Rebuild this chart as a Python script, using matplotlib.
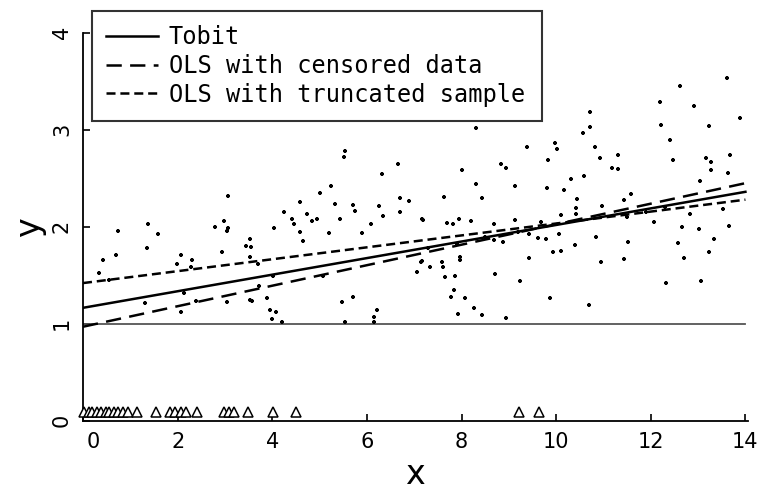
import numpy as np
import matplotlib
matplotlib.use('Agg')
import matplotlib.pyplot as plt
import matplotlib.transforms as mtrans

# observed points (uncensored, y > 1)
pts_x = [3.07, 1.37, 0.75, 1.59, 2.79, 2.98, 3.07, 3.05, 3.53, 3.45, 3.55, 0.69, 0.42, 1.35,
         2.08, 2.30, 2.94, 3.54, 0.34, 1.99, 2.29, 2.13, 1.32, 2.39, 3.05, 2.08, 3.54, 0.55,
         5.53, 5.51, 6.65, 6.31, 5.25, 5.01, 4.58, 5.32, 5.70, 5.75, 6.25, 6.71, 6.88, 4.24,
         4.42, 4.46, 4.74, 4.84, 4.95, 5.43, 6.33, 6.70, 7.17, 4.04, 4.58, 5.19, 5.89, 6.09,
         4.65, 3.70, 4.01, 5.07, 7.06, 7.14, 3.89, 3.57, 5.48, 5.71, 3.96, 4.08, 3.99, 4.20,
         5.54, 6.22, 6.16, 6.14, 3.73,
         8.30, 9.39, 9.98, 10.01, 10.72, 10.72, 10.57, 8.01, 8.84, 8.95, 9.82, 8.31, 9.14,
         9.80, 10.17, 10.32, 10.58, 7.62, 8.44, 10.44, 10.42, 10.42, 7.19, 7.69, 7.81, 7.94,
         8.20, 9.14, 10.10, 8.69, 9.68, 8.88, 9.62, 9.78, 10.06, 10.39, 9.94, 10.10, 7.97,
         7.97, 7.59, 7.60, 7.34, 7.16, 7.65, 7.87, 9.43, 8.70, 9.24, 7.84, 7.78, 8.08, 9.87,
         8.27, 8.44, 7.93, 8.94, 10.69, 7.30, 7.90, 8.50, 9.20, 8.69, 9.42,
         13.62, 12.61, 12.19, 12.91, 13.88, 12.22, 13.24, 12.41, 10.83, 10.93, 11.31, 11.18,
         11.31, 12.46, 13.17, 13.28, 13.27, 13.68, 13.64, 13.04, 11.58, 11.44, 10.97, 12.07,
         12.83, 13.52, 10.84, 12.65, 13.02, 13.65, 11.52, 12.57, 13.33, 10.95, 11.43, 12.70,
         13.23, 12.33, 13.06, 11.50, 11.90, 12.30]
pts_y = [2.32, 2.03, 1.96, 1.93, 2.00, 2.06, 1.99, 1.96, 1.87, 1.80, 1.79, 1.71, 1.66, 1.78,
         1.71, 1.66, 1.74, 1.69, 1.52, 1.62, 1.59, 1.32, 1.21, 1.24, 1.22, 1.12, 1.25, 1.45,
         2.78, 2.72, 2.65, 2.54, 2.42, 2.35, 2.26, 2.23, 2.22, 2.16, 2.21, 2.30, 2.27, 2.15,
         2.08, 2.03, 2.13, 2.06, 2.08, 2.08, 2.11, 2.15, 2.08, 1.99, 1.95, 1.94, 1.94, 2.03,
         1.85, 1.62, 1.49, 1.49, 1.53, 1.64, 1.27, 1.24, 1.22, 1.28, 1.14, 1.12, 1.05, 1.02,
         1.02, 1.14, 1.07, 1.02, 1.39,
         3.02, 2.82, 2.86, 2.80, 3.18, 3.03, 2.97, 2.59, 2.65, 2.61, 2.69, 2.44, 2.42,
         2.40, 2.38, 2.49, 2.52, 2.31, 2.30, 2.29, 2.19, 2.13, 2.07, 2.04, 2.03, 2.08,
         2.06, 2.07, 2.12, 2.03, 2.05, 1.84, 1.88, 1.87, 1.93, 1.81, 1.74, 1.75, 1.69,
         1.66, 1.64, 1.59, 1.59, 1.65, 1.48, 1.49, 1.68, 1.51, 1.44, 1.35, 1.28, 1.27, 1.27,
         1.16, 1.09, 1.10, 1.06, 1.19, 1.78, 1.82, 1.90, 1.95, 1.86, 1.93,
         3.53, 3.45, 3.29, 3.25, 3.12, 3.05, 3.04, 2.89, 2.82, 2.71, 2.74, 2.61,
         2.60, 2.69, 2.71, 2.67, 2.59, 2.74, 2.55, 2.47, 2.34, 2.28, 2.21, 2.05,
         2.13, 2.18, 1.89, 2.00, 1.98, 2.01, 1.84, 1.83, 1.87, 1.64, 1.67, 1.68,
         1.74, 1.42, 1.44, 2.10, 2.15, 2.20]

# censored observations (plotted as triangles near zero)
cens_x = [0.02, 0.12, 0.20, 0.30, 0.38, 0.48, 0.55, 0.65, 0.75, 0.85, 0.95, 1.15,
          1.55, 1.83, 1.94, 2.08, 2.18, 2.41, 2.99, 3.09, 3.20, 3.48, 4.01, 4.51, 9.22, 9.64]
cens_level = 0.09
threshold = 1.0

# fitted lines: intercept, slope
fit_names = ['Tobit', 'OLS with censored data', 'OLS with truncated sample']
fit_intercept = [1.165, 0.97, 1.42]
fit_slope = [0.0854, 0.1057, 0.0614]

x_ticks = [0, 2, 4, 6, 8, 10, 12, 14]
y_ticks = [0, 1, 2, 3, 4]

plt.rcParams['font.family'] = 'DejaVu Sans'
plt.rcParams['lines.scale_dashes'] = False

fig = plt.figure(figsize=(7.65, 5.04), dpi=100)
ax = fig.add_axes([0.1085, 0.165, 0.869, 0.77])

ax.plot(pts_x, pts_y, '+', color='black', ms=3.5, mew=1.6, zorder=3)
ax.plot(cens_x, [cens_level] * len(cens_x), '^', mfc='white', mec='black', ms=7,
        mew=1.1, clip_on=False, zorder=4)
ax.plot([0, 14], [threshold, threshold], color='#555555', lw=1.3, zorder=2)

styles = [dict(ls='-'), dict(dashes=(11, 6)), dict(dashes=(6.5, 3.5))]
xx = np.array([0, 14])
for name, a, b, st in zip(fit_names, fit_intercept, fit_slope, styles):
    ax.plot(xx, a + b * xx, color='black', lw=1.8, label=name, zorder=5, **st)

ax.set_xlim(0, 14.05)
ax.set_ylim(0, 4)
ax.set_xticks(x_ticks)
ax.set_yticks(y_ticks)
ax.set_yticklabels([str(v) for v in y_ticks], rotation=90, va='center')
ax.tick_params(direction='in', length=5, width=1.2, labelsize=15, pad=8)
for s in ['top', 'right']:
    ax.spines[s].set_visible(False)
for s in ['left', 'bottom']:
    ax.spines[s].set_linewidth(1.3)

# the "0" on the x axis sits a bit to the right in the original
lab0 = ax.get_xticklabels()[0]
lab0.set_transform(lab0.get_transform() + mtrans.ScaledTranslation(0.1, 0, fig.dpi_scale_trans))

ax.set_xlabel('x', fontsize=24, labelpad=4)
ax.set_ylabel('y', fontsize=24, labelpad=4)

leg = ax.legend(loc='upper left', bbox_to_anchor=(0.12, 0.978, 0.588, 0),
                bbox_transform=fig.transFigure, mode='expand', borderaxespad=0,
                prop={'family': 'DejaVu Sans Mono', 'size': 17},
                handlelength=2.2, handletextpad=0.45, labelspacing=0.2,
                fancybox=False, frameon=True, borderpad=0.6)
leg.get_frame().set_edgecolor('black')
leg.get_frame().set_linewidth(1.5)

fig.savefig('out.png', dpi=100)
